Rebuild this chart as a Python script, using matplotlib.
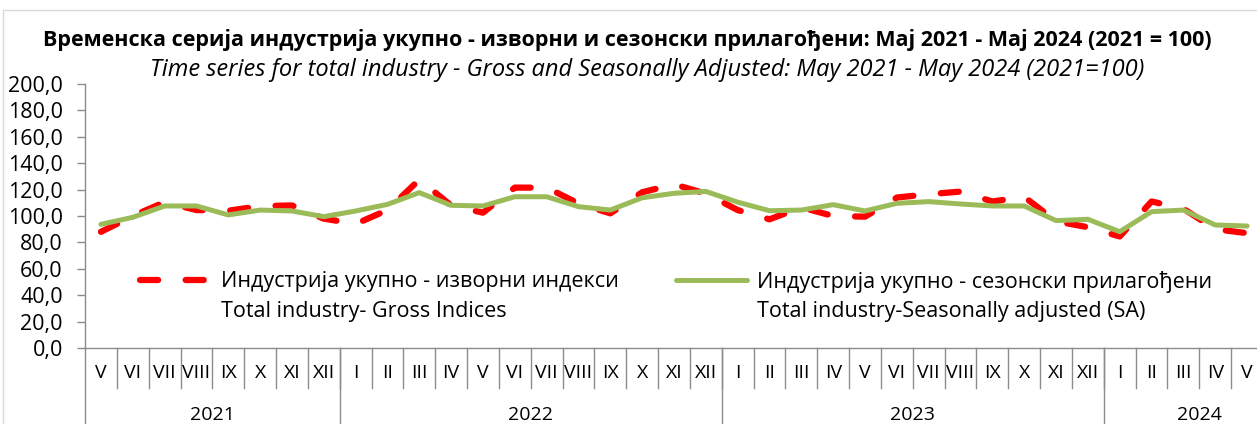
import matplotlib
matplotlib.use('Agg')
import matplotlib.pyplot as plt
from matplotlib.patches import Rectangle
from matplotlib.ticker import FuncFormatter

plt.rcParams['font.family'] = ['Open Sans', 'DejaVu Sans']

# months May 2021 - May 2024
months = ['V', 'VI', 'VII', 'VIII', 'IX', 'X', 'XI', 'XII',
          'I', 'II', 'III', 'IV', 'V', 'VI', 'VII', 'VIII', 'IX', 'X', 'XI', 'XII',
          'I', 'II', 'III', 'IV', 'V', 'VI', 'VII', 'VIII', 'IX', 'X', 'XI', 'XII',
          'I', 'II', 'III', 'IV', 'V']
years = ['2021', '2022', '2023', '2024']
year_counts = [8, 12, 12, 5]

# gross indices (2021 = 100)
gross = [88.0, 100.0, 110.5, 104.5, 104.0, 107.5, 108.0, 98.0,
         94.0, 104.5, 127.5, 108.0, 102.5, 121.5, 121.5, 109.5, 102.0, 118.0, 124.0, 117.0,
         104.5, 97.5, 106.5, 100.0, 99.5, 114.0, 116.5, 118.5, 111.0, 114.5, 96.0, 91.5,
         84.5, 111.0, 105.5, 90.0, 87.0]
# seasonally adjusted
sa = [93.7, 99.0, 107.6, 107.6, 100.8, 104.5, 103.8, 99.5,
      103.8, 108.8, 117.7, 108.1, 107.6, 114.6, 114.6, 107.1, 104.5, 113.8, 117.2, 118.6,
      110.5, 104.0, 104.5, 108.6, 103.8, 109.6, 110.9, 109.1, 107.6, 107.6, 96.5, 97.5,
      88.1, 103.3, 104.5, 93.2, 92.4]

title_sr = 'Временска серија индустрија укупно - изворни и сезонски прилагођени: Мај 2021 - Мај 2024 (2021 = 100)'
title_en = 'Time series for total industry - Gross and Seasonally Adjusted: May 2021 - May 2024 (2021=100)'
label_gross = ['Индустрија укупно - изворни индекси', 'Total industry- Gross Indices']
label_sa = ['Индустрија укупно - сезонски прилагођени', 'Total industry-Seasonally adjusted (SA)']

gray = '#8c8c8c'
W, H = 1257, 424
fs = 15.5

fig = plt.figure(figsize=(W / 100, H / 100), dpi=100)
fig.patches.append(Rectangle((3 / W, -0.1), 1.2, 1.1 - 10 / H, transform=fig.transFigure,
                             fill=False, edgecolor='#d9d9d9', lw=1))
ax = fig.add_axes([85 / W, 76 / H, 1178 / W, 264 / H])

x = list(range(len(months)))
line_g, = ax.plot(x, gross, color='#FF0000', lw=4.5, dashes=(2.9, 4.4),
                  dash_capstyle='round', solid_joinstyle='round')
line_s, = ax.plot(x, sa, color='#9BBB59', lw=3.6, solid_capstyle='round',
                  solid_joinstyle='round')

ax.set_xlim(-0.5, len(months) - 0.5)
ax.set_ylim(0, 200)
ax.set_yticks(range(0, 201, 20))
ax.yaxis.set_major_formatter(FuncFormatter(lambda v, p: f'{v:.1f}'.replace('.', ',')))
ax.set_xticks([])
ax.tick_params(axis='y', direction='out', length=6, width=1, color=gray, pad=10, labelsize=fs)
for s in ['top', 'right']:
    ax.spines[s].set_visible(False)
for s in ['left', 'bottom']:
    ax.spines[s].set_color(gray)
    ax.spines[s].set_linewidth(1)

# two-level category axis
trans = ax.get_xaxis_transform()
for i, m in enumerate(months):
    ax.text(i, -0.095, m, transform=trans, ha='center', va='center', fontsize=14)
    ax.plot([i + 0.5, i + 0.5], [0, -0.15], transform=trans, color=gray, lw=1, clip_on=False)
ax.plot([-0.5, -0.5], [0, -0.3], transform=trans, color=gray, lw=1, clip_on=False)
start = -0.5
for yr, n in zip(years, year_counts):
    end = start + n
    ax.plot([end, end], [0, -0.3], transform=trans, color=gray, lw=1, clip_on=False)
    ax.text(start + max(n, 6) / 2, -0.254, yr, transform=trans, ha='center', va='center', fontsize=14)
    start = end

fig.text(0.499, 1 - 40 / H, title_sr, ha='center', va='center', fontsize=15.5, fontweight='bold')
fig.text(0.515, 1 - 70 / H, title_en, ha='center', va='center', fontsize=17, style='italic')

# legends: first line with handle, second line below
leg1 = ax.legend([line_g], [label_gross[0]], loc='center left', bbox_to_anchor=(55 / 1178, 0.25),
                 frameon=False, fontsize=fs, handlelength=3.3, handletextpad=0.45,
                 borderpad=0, borderaxespad=0)
ax.add_artist(leg1)
leg2 = ax.legend([line_s], [label_sa[0]], loc='center left', bbox_to_anchor=(591 / 1178, 0.25),
                 frameon=False, fontsize=fs, handlelength=3.3, handletextpad=0.45,
                 borderpad=0, borderaxespad=0)
fig.canvas.draw()
for leg, txt in [(leg1, label_gross[1]), (leg2, label_sa[1])]:
    bb = leg.get_texts()[0].get_window_extent()
    fig.text(bb.x0 / W, ((bb.y0 + bb.y1) / 2 - 29) / H, txt, ha='left', va='center', fontsize=fs)

fig.savefig('out.png', dpi=100)
